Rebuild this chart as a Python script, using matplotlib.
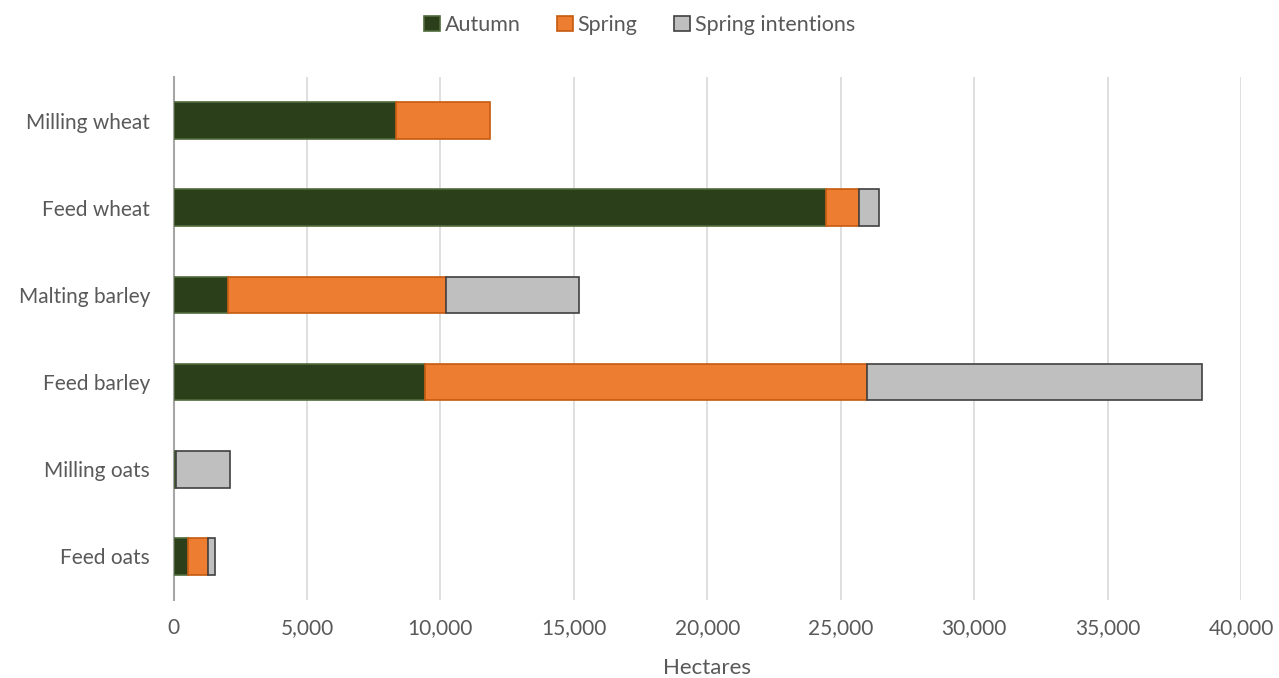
import matplotlib
matplotlib.use("Agg")
import matplotlib.pyplot as plt
import numpy as np

categories = ["Milling wheat", "Feed wheat", "Malting barley", "Feed barley", "Milling oats", "Feed oats"]
autumn = [8350, 24440, 2040, 9410, 80, 560]
spring = [3500, 1250, 8160, 16560, 0, 730]
spring_intentions = [0, 730, 4990, 12560, 2040, 280]
x_ticks = [0, 5000, 10000, 15000, 20000, 25000, 30000, 35000, 40000]

plt.rcParams['font.family'] = ['Lato', 'DejaVu Sans']
text_color = "#595959"

fig = plt.figure(figsize=(12.79, 6.78), dpi=100)
ax = fig.add_axes([173.5 / 1279, 1 - 600 / 678, (1241 - 173.5) / 1279, (600 - 77) / 678])

y = np.arange(len(categories))
h = 0.42
autumn = np.array(autumn, dtype=float)
spring = np.array(spring, dtype=float)
spring_intentions = np.array(spring_intentions, dtype=float)


def stacked(values, left, color, edge, label):
    mask = values > 0
    ax.barh(y[mask], values[mask], left=left[mask], height=h, color=color, edgecolor=edge,
            linewidth=1.2, label=label, zorder=3)


zeros = np.zeros_like(autumn)
stacked(autumn, zeros, "#2c3f1b", "#4f6b3c", "Autumn")
stacked(spring, autumn, "#ed7d31", "#c55a11", "Spring")
stacked(spring_intentions, autumn + spring, "#bfbfbf", "#404040", "Spring intentions")

ax.set_xlim(0, 40000)
ax.set_ylim(len(categories) - 0.5, -0.5)
ax.set_xticks(x_ticks)
ax.set_xticklabels([f"{v:,}" for v in x_ticks])
ax.set_yticks(y)
ax.set_yticklabels(categories)
ax.tick_params(axis="both", length=0, labelsize=15, colors=text_color)
ax.tick_params(axis="x", pad=13)
ax.tick_params(axis="y", pad=17)
ax.grid(axis="x", color="#d9d9d9", linewidth=1.2, zorder=0)
for s in ["top", "right", "bottom"]:
    ax.spines[s].set_visible(False)
ax.spines["left"].set_color("#a6a6a6")
ax.spines["left"].set_linewidth(1.5)
ax.spines["left"].set_zorder(2)

ax.set_xlabel("Hectares", fontsize=16, color=text_color, labelpad=14)

fig.legend(loc="upper center", bbox_to_anchor=(0.5, 1.0), ncol=3, frameon=False,
           fontsize=15.5, labelcolor=text_color, handlelength=0.75, handleheight=0.75,
           handletextpad=0.2, columnspacing=1.7, borderaxespad=0.3)

fig.savefig("out.png", dpi=100, facecolor="white")
